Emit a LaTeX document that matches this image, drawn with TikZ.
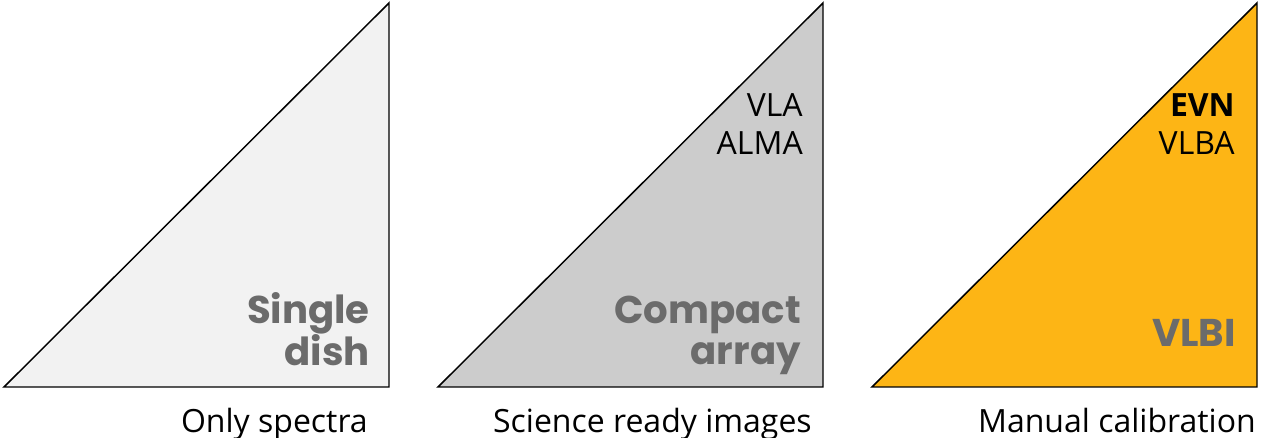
\documentclass[tikz,border=0pt]{standalone}
\usepackage{fontspec}
\setmainfont{Open Sans}
\newfontfamily\headfont{Poppins}
\definecolor{dishGray}{HTML}{F2F2F2}
\definecolor{arrayGray}{HTML}{CCCCCC}
\definecolor{vlbiOrange}{HTML}{FDB515}
\definecolor{headGray}{HTML}{6B6B6B}

\begin{document}
\begin{tikzpicture}[x=0.75pt,y=-0.75pt,
  wedge/.style={draw=black,line width=1.1pt,line join=miter},
  head/.style={font=\headfont\bfseries\fontsize{29}{31}\selectfont,text=headGray,align=right,anchor=base east,inner sep=0pt},
  small/.style={font=\fontsize{24}{28.5}\selectfont,align=right,anchor=base east,inner sep=0pt}]
  \useasboundingbox (0,0) rectangle (1261,438);
  % (a) single dish
  \draw[wedge,fill=dishGray] (4,387) -- (389,387) -- (389,3) -- cycle;
  \node[head] (sd) at (370,366) {Single\\dish};
  \node[small] (sdcap) at (368,432) {Only spectra};
  % (b) compact array
  \begin{scope}[shift={(434,0)}]
    \draw[wedge,fill=arrayGray] (4,387) -- (389,387) -- (389,3) -- cycle;
    \node[small] (ca) at (369,155) {VLA\\ALMA};
    \node[head] (cahead) at (367,365) {Compact\\array};
    \node[small] (cacap) at (378,432) {Science ready images};
  \end{scope}
  % (c) vlbi
  \begin{scope}[shift={(868,0)}]
    \draw[wedge,fill=vlbiOrange] (4,387) -- (389,387) -- (389,3) -- cycle;
    \node[small] (vl) at (367,155) {\textbf{EVN}\\VLBA};
    \node[head] (vlhead) at (368,347) {VLBI};
    \node[small] (vlcap) at (388,432) {Manual calibration};
  \end{scope}
\end{tikzpicture}
\end{document}
